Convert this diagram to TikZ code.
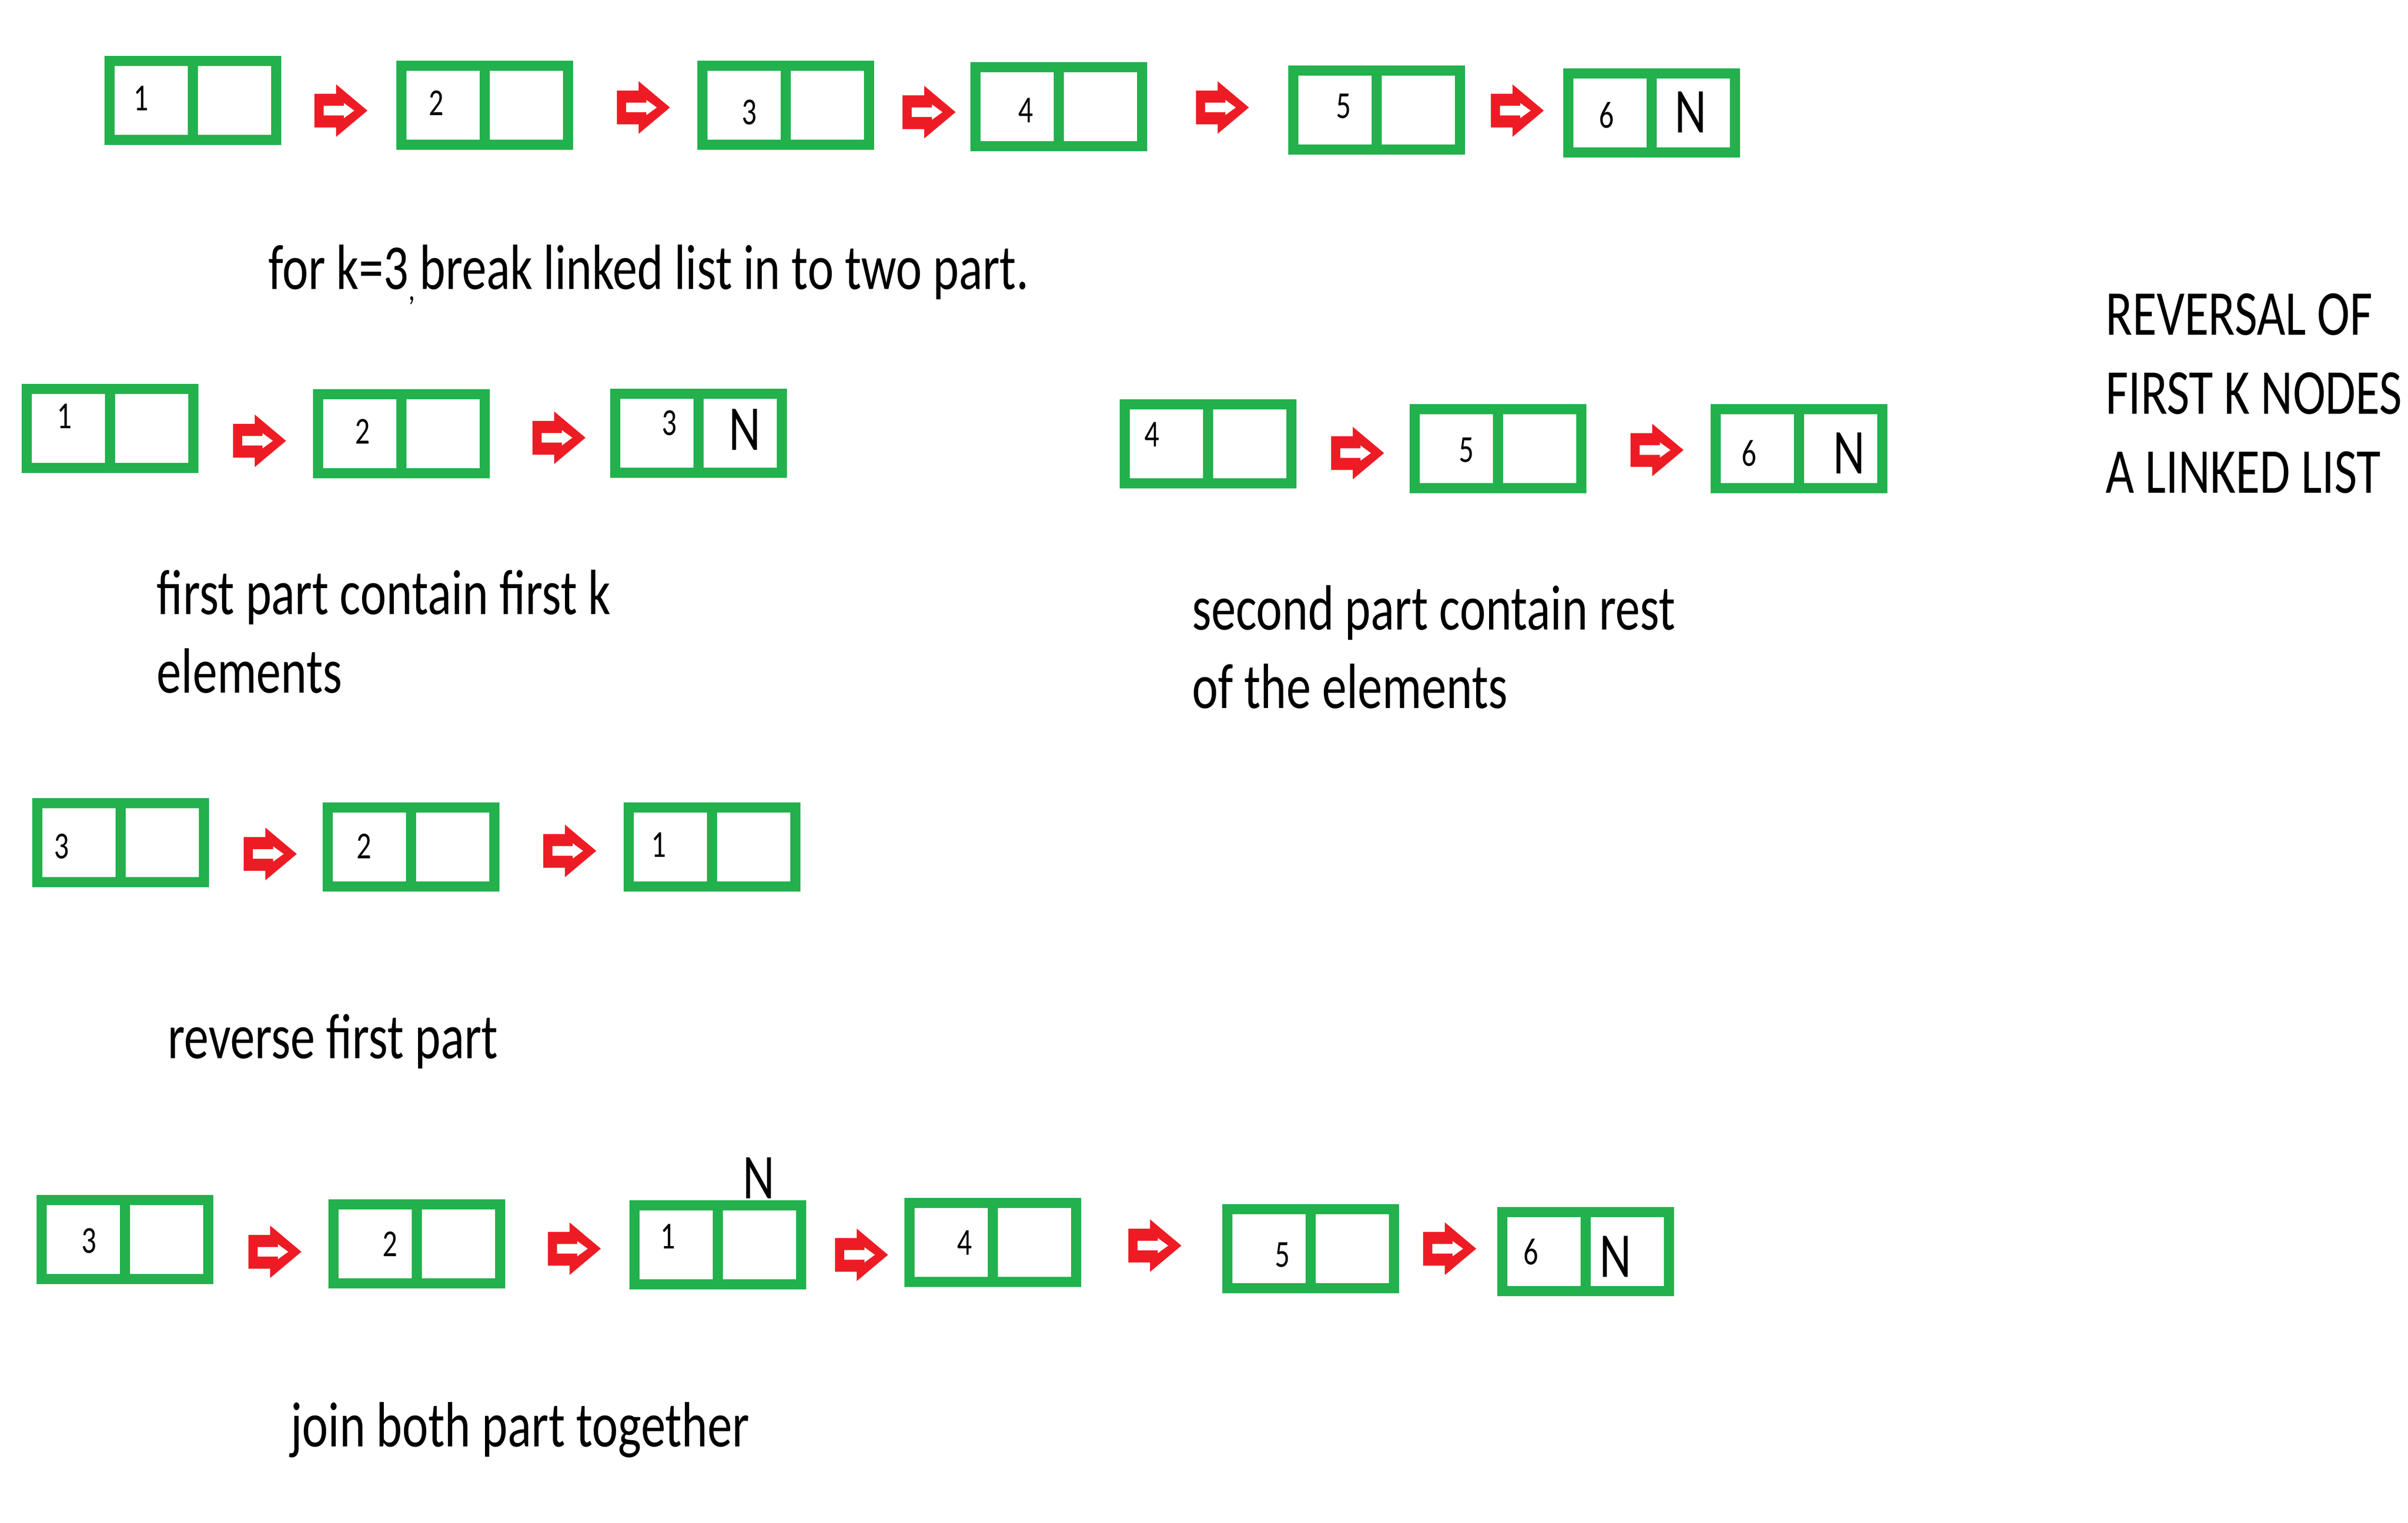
\documentclass[tikz,border=0pt]{standalone}
\usepackage{fontspec}
\setmainfont{Carlito}[FakeStretch=0.77]
\definecolor{boxgreen}{RGB}{34,177,76}
\definecolor{arrowred}{RGB}{237,28,36}
\tikzset{
  cell/.style={draw=boxgreen, line width=0.21cm, fill=white, minimum width=1.73cm, minimum height=1.64cm, inner sep=0pt, outer sep=0pt},
  ptr/.style={cell, anchor=west},
  num/.style={inner sep=0pt, font=\fontsize{22.5}{22.5}\selectfont},
  nil/.style={inner sep=0pt, font=\fontsize{37.8}{37.8}\selectfont},
  link/.style={minimum width=1.2cm, minimum height=1.2cm, inner sep=0pt,
    path picture={\fill[arrowred, even odd rule, shift={(path picture bounding box.center)}, x=1cm, y=1cm]
      (-.55,.35) -- (-.10,.35) -- (-.10,.545) -- (.55,0) -- (-.10,-.545) -- (-.10,-.35) -- (-.55,-.35) -- cycle
      (-.36,.10) -- (.06,.10) -- (.06,.16) -- (.28,0) -- (.06,-.16) -- (.06,-.10) -- (-.36,-.10) -- cycle;}},
  caption/.style={anchor=base west, inner sep=0pt, font=\fontsize{37.8}{46.2}\selectfont}
}
\begin{document}
\begin{tikzpicture}[x=0.03189cm, y=-0.03189cm]
\useasboundingbox (0,0) rectangle (1568,991.6);
% whole list
\node[cell] (a1) at (98.4,65.5){};
\node[ptr] (a1p) at (a1.east){};
\node[num] (a1v) at (92,64){1};
\node[cell] (a2) at (288.4,68.5){};
\node[ptr] (a2p) at (a2.east){};
\node[num] (a2v) at (284,67){2};
\node[cell] (a3) at (484.4,68.5){};
\node[ptr] (a3p) at (a3.east){};
\node[num] (a3v) at (488,73){3};
\node[cell] (a4) at (662.4,69.5){};
\node[ptr] (a4p) at (a4.east){};
\node[num] (a4v) at (668,72){4};
\node[cell] (a5) at (869.4,71.5){};
\node[ptr] (a5p) at (a5.east){};
\node[num] (a5v) at (875,69){5};
\node[cell] (a6) at (1048.4,73.5){};
\node[ptr] (a6p) at (a6.east){};
\node[num] (a6v) at (1046,75){6};
\node[nil] (a6n) at (1101,73){N};
\node[link] (a12) at (222,72){};
\node[link] (a23) at (419,70){};
\node[link] (a34) at (605,73){};
\node[link] (a45) at (796,70){};
\node[link] (a56) at (988,72){};
\node[caption] (t1) at (174.5,188.4){for k=3\rlap{\raisebox{-.17em}{\fontsize{20}{20}\selectfont,}} break linked list in to two part.};
% first part
\node[cell] (b1) at (44.4,279){};
\node[ptr] (b1p) at (b1.east){};
\node[num] (b1v) at (42,271){1};
\node[cell] (b2) at (234.4,282.5){};
\node[ptr] (b2p) at (b2.east){};
\node[num] (b2v) at (236,281){2};
\node[cell] (b3) at (427.7,282){};
\node[ptr] (b3p) at (b3.east){};
\node[num] (b3v) at (435.9,275.3){3};
\node[nil] (b3n) at (485.1,279.7){N};
\node[link] (b12) at (169,287){};
\node[link] (b23) at (364,285){};
\node[caption] (t2) at (102,400){first part contain first k};
\node[caption] (t2b) at (102,451){elements};
% second part
\node[cell] (c4) at (759.4,289){};
\node[ptr] (c4p) at (c4.east){};
\node[num] (c4v) at (750,283){4};
\node[cell] (c5) at (948.4,292){};
\node[ptr] (c5p) at (c5.east){};
\node[num] (c5v) at (955,293){5};
\node[cell] (c6) at (1144.4,292){};
\node[ptr] (c6p) at (c6.east){};
\node[num] (c6v) at (1139,295){6};
\node[nil] (c6n) at (1204,295){N};
\node[link] (c45) at (884,295){};
\node[link] (c56) at (1079,293){};
\node[caption] (t3) at (776,410){second part contain rest};
\node[caption] (t3b) at (776,461){of the elements};
% title
\node[caption] (h1) at (1371,218){REVERSAL OF};
\node[caption] (h2) at (1371,269.5){FIRST K NODES};
\node[caption] (h3) at (1371,321){A LINKED LIST};
% reversed first part
\node[cell] (d3) at (51.4,548.5){};
\node[ptr] (d3p) at (d3.east){};
\node[num] (d3v) at (40,551){3};
\node[cell] (d2) at (240.4,551.5){};
\node[ptr] (d2p) at (d2.east){};
\node[num] (d2v) at (237,551){2};
\node[cell] (d1) at (436.4,551.5){};
\node[ptr] (d1p) at (d1.east){};
\node[num] (d1v) at (429,550){1};
\node[link] (d32) at (176,556){};
\node[link] (d21) at (371,554){};
\node[caption] (t4) at (109,689){reverse first part};
% joined list
\node[cell] (e3) at (54.4,807){};
\node[ptr] (e3p) at (e3.east){};
\node[num] (e3v) at (58,808){3};
\node[cell] (e2) at (244.4,810){};
\node[ptr] (e2p) at (e2.east){};
\node[num] (e2v) at (254,810){2};
\node[cell] (e1) at (440.4,810.5){};
\node[ptr] (e1p) at (e1.east){};
\node[num] (e1v) at (435,805){1};
\node[nil] (e1n) at (494,767){N};
\node[cell] (e4) at (619.4,809){};
\node[ptr] (e4p) at (e4.east){};
\node[num] (e4v) at (628,809){4};
\node[cell] (e5) at (826.4,813){};
\node[ptr] (e5p) at (e5.east){};
\node[num] (e5v) at (835,817){5};
\node[cell] (e6) at (1005.4,815){};
\node[ptr] (e6p) at (e6.east){};
\node[num] (e6v) at (997,815){6};
\node[nil] (e6n) at (1052,818){N};
\node[link] (e32) at (179,815){};
\node[link] (e21) at (374,813){};
\node[link] (e14) at (561,817){};
\node[link] (e45) at (752,811){};
\node[link] (e56) at (944,813){};
\node[caption] (t5) at (189,942){join both part together};
\end{tikzpicture}
\end{document}
